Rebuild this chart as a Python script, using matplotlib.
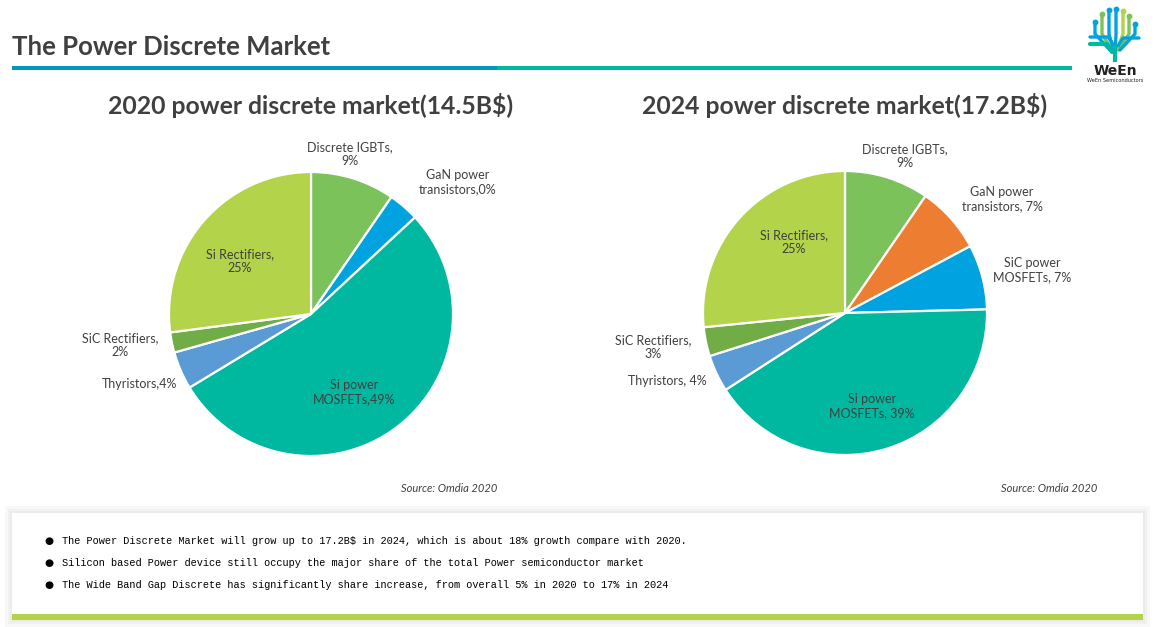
import numpy as np
import matplotlib
matplotlib.use('Agg')
from matplotlib import pyplot as plt
from matplotlib.patches import Rectangle

#%% DATA

# 2020 market shares (slice sizes, labels as printed)
labels_2020 = ['Discrete IGBTs,\n9%', 'GaN power\ntransistors,0%', '', 'Si power\nMOSFETs,49%',
               'Thyristors,4%', 'SiC Rectifiers,\n2%', 'Si Rectifiers,\n25%']
values_2020 = [9.6, 0.0, 3.5, 53.3, 4.3, 2.3, 27.1]

# 2024 market shares
labels_2024 = ['Discrete IGBTs,\n9%', 'GaN power\ntransistors, 7%', 'SiC power\nMOSFETs, 7%',
               'Si power\nMOSFETs, 39%', 'Thyristors, 4%', 'SiC Rectifiers,\n3%', 'Si Rectifiers,\n25%']
values_2024 = [9.6, 7.6, 7.4, 41.3, 4.2, 3.3, 26.6]

colors = ['#7CC25B', '#ED7D31', '#00A3E0', '#00B8A0', '#5B9BD5', '#70AD47', '#B3D34A']

titles = ['2020 power discrete market(14.5B$)', '2024 power discrete market(17.2B$)']
main_title = 'The Power Discrete Market'
source = 'Source: Omdia 2020'
bullets = ['The Power Discrete Market will grow up to 17.2B$ in 2024, which is about 18% growth compare with 2020.',
           'Silicon based Power device still occupy the major share of the total Power semiconductor market',
           'The Wide Band Gap Discrete has significantly share increase, from overall 5% in 2020 to 17% in 2024']

#%% LAYOUT (pixels)

W, H = 1160, 627
pie_centers = [(311, 314), (845, 313)]
pie_radius = 142
source_right = [497, 1097]
label_pos_2020 = [(350, 154), (458, 182), (0, 0), (354, 392), (140, 384), (120, 345), (240, 261)]
label_pos_2024 = [(905, 156), (1002, 199), (1032, 270), (872, 406), (667, 381), (653, 347), (794, 242)]
txt_col = '#404040'
font = 'Lato'

fig = plt.figure(figsize=(W/100, H/100), dpi=100)
bg = fig.add_axes([0, 0, 1, 1])
bg.set_xlim(0, W)
bg.set_ylim(H, 0)
bg.axis('off')

# header
bg.text(12, 47, main_title, fontsize=18.5, fontweight='bold', color=txt_col, family=font, va='center')
bg.add_patch(Rectangle((12, 65.5), 485, 4, color='#0098B8', lw=0))
bg.add_patch(Rectangle((497, 65.5), 575, 4, color='#00B89F', lw=0))

# logo (simplified tree)
lx = 1115
branches = [(-20, 22, '#00A3E0'), (-13, 14, '#7CC25B'), (-6, 10, '#00A3E0'), (1, 9, '#00A3E0'),
            (8, 11, '#B2D249'), (14, 16, '#7CC25B'), (20, 24, '#00A3E0')]
for dx, top, c in branches:
    bg.plot([lx + dx, lx + dx, lx + dx*0.25], [top, 34, 50], color=c, lw=2.4,
            solid_capstyle='round', solid_joinstyle='round')
    bg.plot(lx + dx, top, 'o', ms=3.2, color=c)
bg.plot([1090, lx - 7, lx - 2], [37, 37, 44], color='#00A3E0', lw=2.4, solid_capstyle='round')
bg.plot([1090, lx - 8, lx - 3], [44, 44, 52], color='#00B89F', lw=3, solid_capstyle='round')
bg.plot([lx + 24, lx + 8, lx + 3], [38, 38, 46], color='#00A3E0', lw=2.4, solid_capstyle='round')
bg.plot([lx, lx], [46, 60], color='#00B89F', lw=3)
bg.text(lx, 71, 'WeEn', fontsize=10, fontweight='bold', color='#222222', family='DejaVu Sans',
        ha='center', va='center')
bg.text(lx, 81, 'WeEn Semiconductors', fontsize=3.6, color='#222222', ha='center', va='center')

# bottom box with shadow
for pad, a in [(7, 0.25), (4, 0.35), (2, 0.5)]:
    bg.add_patch(Rectangle((12 - pad, 513 - pad), 1131 + 2*pad, 107 + 2*pad, color='#E6E6E6',
                           alpha=a, lw=0))
bg.add_patch(Rectangle((12, 513), 1131, 101, color='white', lw=0))
bg.add_patch(Rectangle((12, 614), 1131, 5.5, color='#B3D34A', lw=0))
for i, t in enumerate(bullets):
    y = 541 + 22*i
    bg.text(49, y, '\u25cf', fontsize=7.5, color='black', ha='center', va='center')
    bg.text(62, y, t, fontsize=7.35, color='black', family='Liberation Mono', va='center')

# pies
for k, vals in enumerate([values_2020, values_2024]):
    cx, cy = pie_centers[k]
    ax = fig.add_axes([(cx - pie_radius)/W, 1 - (cy + pie_radius)/H, 2*pie_radius/W, 2*pie_radius/H])
    ax.pie(vals, colors=colors, startangle=90, counterclock=False,
           wedgeprops=dict(edgecolor='white', linewidth=1.6))
    ax.set_xlim(-1, 1)
    ax.set_ylim(-1, 1)
    ax.set_aspect('equal')
    ax.axis('off')

# texts over the pies
fg = fig.add_axes([0, 0, 1, 1])
fg.set_xlim(0, W)
fg.set_ylim(H, 0)
fg.axis('off')
fg.patch.set_alpha(0)
for k, (labs, lpos) in enumerate([(labels_2020, label_pos_2020), (labels_2024, label_pos_2024)]):
    cx, cy = pie_centers[k]
    for lab, (x, y) in zip(labs, lpos):
        if lab:
            fg.text(x, y, lab, fontsize=9, color=txt_col, family=font, ha='center', va='center',
                    linespacing=1.25)
    fg.text(cx, 105, titles[k], fontsize=17.8, fontweight='bold', color=txt_col, family=font,
            ha='center', va='center')
    fg.text(source_right[k], 489, source, fontsize=8, style='italic', color=txt_col, family=font,
            ha='right', va='center')

fig.savefig('out.png', dpi=100)
